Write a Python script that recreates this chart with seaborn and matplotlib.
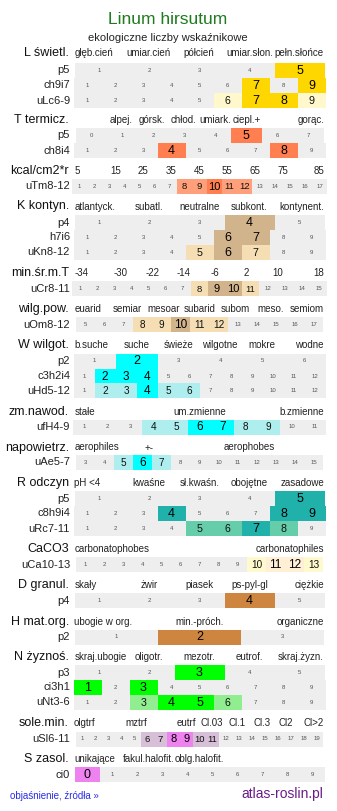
import matplotlib
matplotlib.use("Agg")
import matplotlib.pyplot as plt
import seaborn as sns

sns.set_theme(style="white")
plt.rcParams['font.family'] = ['Liberation Sans', 'DejaVu Sans']

# ---------------- data ----------------
title = "Linum hirsutum"
subtitle = "ekologiczne liczby wskaźnikowe"

group_names = ["L świetl.", "T termicz.", "kcal/cm2*r", "K kontyn.", "min.śr.m.T",
               "wilg.pow.", "W wilgot.", "zm.nawod.", "napowietrz.", "R odczyn",
               "CaCO3", "D granul.", "H mat.org.", "N żyznoś.", "sole.min.", "S zasol."]
group_ticks = [
    ["głęb.cień", "umiar.cień", "półcień", "umiar.słon.", "pełn.słońce"],
    ["", "alpej.", "górsk.", "chłod.", "umiark.", "ciepl.+", "", "gorąc."],
    ["5", "15", "25", "35", "45", "55", "65", "75", "85"],
    ["atlantyck.", "subatl.", "neutralne", "subkont.", "kontynent."],
    ["-34", "-30", "-22", "-14", "-6", "2", "10", "18"],
    ["euarid", "semiar", "mesoar", "subarid", "subom", "meso.", "semiom"],
    ["b.suche", "suche", "świeże", "wilgotne", "mokre", "wodne"],
    ["stałe", "um.zmienne", "b.zmienne"],
    ["aerophiles", "+-", "", "aerophobes", ""],
    ["pH <4", "kwaśne", "sł.kwaśn.", "obojętne", "zasadowe"],
    ["carbonatophobes", "carbonatophiles"],
    ["skały", "żwir", "piasek", "ps-pyl-gl", "ciężkie"],
    ["ubogie w org.", "min.-próch.", "organiczne"],
    ["skraj.ubogie", "oligotr.", "mezotr.", "eutrof.", "skraj.żyzn."],
    ["olgtrf", "mztrf", "eutrf", "Cl.03", "Cl.1", "Cl.3", "Cl2", "Cl>2"],
    ["unikające", "fakul.halofit.", "oblg.halofit.", "", ""],
]
group_strong_color = ["#FFD700", "#FF7F50", "#FF7F50", "#D2B48C", "#D2B48C", "#D2B48C",
                      "#00FFFF", "#00FFFF", "#00FFFF", "#20B2AA", "#FFEFD5", "#CD853F",
                      "#CD853F", "#00FF00", "#EE82EE", "#EE82EE"]
group_weak_color = ["#FFF8CC", "#FFA07A", "#FFA07A", "#F5DEB3", "#F5DEB3", "#F5DEB3",
                    "#AFEEEE", "#AFEEEE", "#AFEEEE", "#66CDAA", "#FFFACD", "#CD853F",
                    "#CD853F", "#90EE90", "#D8BFD8", "#D8BFD8"]

row_labels = ["p5", "ch9i7", "uLc6-9",
              "p5", "ch8i4",
              "uTm8-12",
              "p4", "h7i6", "uKn8-12",
              "uCr8-11",
              "uOm8-12",
              "p2", "c3h2i4", "uHd5-12",
              "ufH4-9",
              "uAe5-7",
              "p5", "c8h9i4", "uRc7-11",
              "uCa10-13",
              "p4",
              "p2",
              "p3", "ci3h1", "uNt3-6",
              "uSl6-11",
              "ci0"]
row_group = [0, 0, 0, 1, 1, 2, 3, 3, 3, 4, 5, 6, 6, 6, 7, 8, 9, 9, 9, 10, 11, 12,
             13, 13, 13, 14, 15]
row_first = [1, 1, 1, 0, 1, 1, 1, 1, 1, 1, 5, 1, 1, 1, 1, 3, 1, 1, 1, 1, 1, 1,
             1, 1, 1, 1, 0]
row_last = [5, 9, 9, 7, 9, 17, 5, 9, 9, 15, 17, 6, 12, 12, 11, 15, 5, 9, 9, 13, 5, 3,
            5, 9, 9, 19, 9]
row_strong = [[5], [7, 9], [7, 8],
              [5], [4, 8],
              [10],
              [4], [6, 7], [6],
              [9, 10],
              [10],
              [2], [2, 3, 4], [4],
              [6, 7],
              [6],
              [5], [4, 8, 9], [7],
              [11, 12],
              [4],
              [2],
              [3], [1, 3], [4, 5],
              [8, 9],
              [0]]
row_weak = [[], [], [6, 9],
            [], [],
            [8, 9, 11, 12],
            [], [], [5, 7],
            [8, 11],
            [8, 9, 11, 12],
            [], [], [2, 3, 5, 6],
            [4, 5, 8, 9],
            [5, 7],
            [], [], [5, 6, 8],
            [10, 13],
            [],
            [],
            [], [], [3, 6],
            [6, 7, 10, 11],
            []]

# ---------------- layout ----------------
header_y = [53.5, 120, 171, 206.5, 273, 309, 345, 412, 447.5, 483, 549, 585, 622, 657, 723, 759]
row_y = [70, 85.5, 100.5,
         135.5, 150.5,
         186,
         222.5, 237.5, 252,
         288.5,
         324.5,
         361, 376, 390.5,
         427,
         462,
         498.5, 513.5, 528.5,
         564.5,
         600.5,
         637,
         672.5, 687.5, 702,
         739,
         774.5]
sole_x = [74, 136, 186, 211.5, 237.5, 262, 285.6, 323.5]
GRID_L, GRID_W, CENTER = 73.5, 251.5, 199.5
ROW_H = 15

W, H = 337, 811
fig = plt.figure(figsize=(W / 100, H / 100), dpi=100)
ax = fig.add_axes([0, 0, 1, 1])
ax.set_xlim(0, W)
ax.set_ylim(H, 0)
ax.axis("off")

ax.text(168, 19, title, ha="center", va="center", fontsize=12.5, color="#1E7B1E")
ax.text(168, 38, subtitle, ha="center", va="center", fontsize=8, color="#222222")

for gi, name in enumerate(group_names):
    y = header_y[gi]
    ax.text(69, y, name, ha="right", va="center", fontsize=9, color="#111111")
    ticks = group_ticks[gi]
    n = len(ticks)
    for k, lab in enumerate(ticks):
        if not lab:
            continue
        if gi == 14:
            x = sole_x[k]
            ha = "left" if k == 0 else ("right" if k == n - 1 else "center")
        elif k == 0:
            x, ha = GRID_L + 1, "left"
        elif k == n - 1:
            x, ha = GRID_L + GRID_W - 1, "right"
        else:
            x, ha = GRID_L + (k + 0.5) * GRID_W / n, "center"
        ax.text(x, y, lab, ha=ha, va="center", fontsize=7, color="#222222")

for ri, lab in enumerate(row_labels):
    y = row_y[ri]
    g = row_group[ri]
    vals = list(range(row_first[ri], row_last[ri] + 1))
    n = len(vals)
    cw = round(250 / n)
    left0 = CENTER - n * cw / 2
    lefts = [left0 + i * cw for i in range(n)]
    colors = []
    for v in vals:
        if v in row_strong[ri]:
            colors.append(group_strong_color[g])
        elif v in row_weak[ri]:
            colors.append(group_weak_color[g])
        else:
            colors.append("#EEEEEE")
    ax.barh([y] * n, [cw] * n, left=lefts, height=ROW_H, color=colors,
            align="center", linewidth=0)
    ax.text(70, y, lab, ha="right", va="center", fontsize=8, color="#222222")
    big = 9 if cw >= 25 else (8.5 if cw >= 19 else 8)
    for v, l in zip(vals, lefts):
        cx = l + cw / 2
        if v in row_strong[ri]:
            ax.text(cx, y + 0.5, str(v), ha="center", va="center", fontsize=big, color="#000000")
        elif v in row_weak[ri]:
            ax.text(cx, y + 0.5, str(v), ha="center", va="center", fontsize=big * 0.85, color="#111111")
        else:
            ax.text(cx, y, str(v), ha="center", va="center", fontsize=4.3, color="#555555")

ax.text(10, 796, "objaśnienie, źródła »", ha="left", va="center", fontsize=7, color="#2B2BE8")
ax.text(323, 794, "atlas-roslin.pl", ha="right", va="center", fontsize=10, color="#6A1B8A")

fig.savefig("out.png", dpi=100)
